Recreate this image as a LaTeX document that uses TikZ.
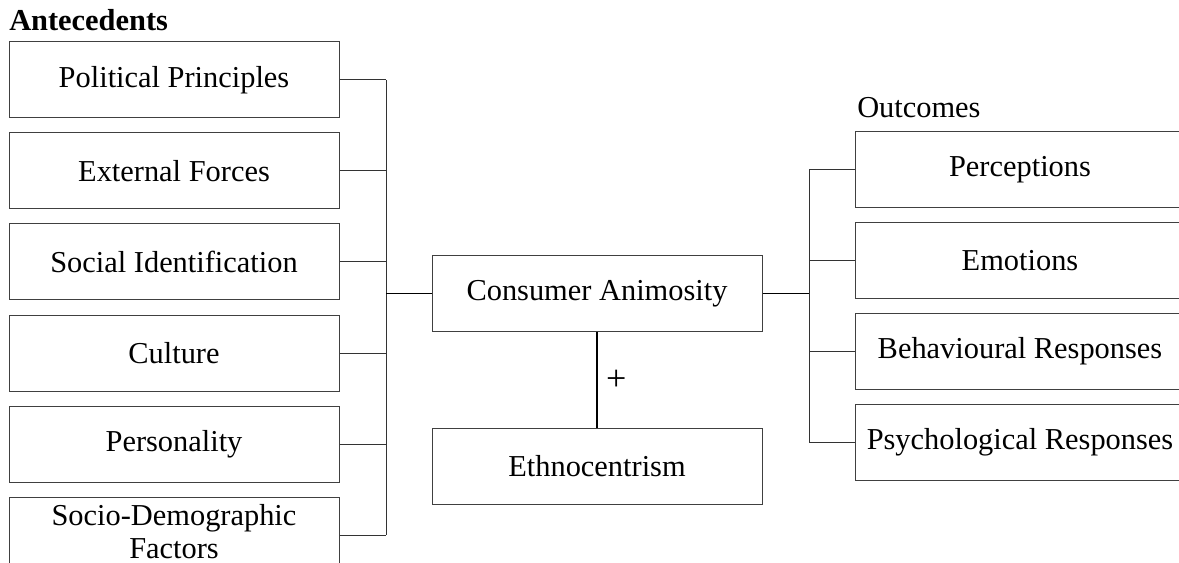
\documentclass[tikz,border=0pt]{standalone}
\usepackage{fontspec}
\setmainfont{Liberation Serif}
\usetikzlibrary{positioning}
\tikzset{factor/.style={rectangle,draw=black!75,line width=0.75pt,minimum width=247.5pt,minimum height=57pt,inner sep=0pt,align=center,font=\fontsize{22.8}{26}\selectfont}}
\tikzset{link/.style={draw=black!80,line width=0.75pt}}
\tikzset{mainlink/.style={draw=black,line width=1.1pt}}

\begin{document}
\begin{tikzpicture}[x=0.75pt,y=-0.75pt,node distance=10.5pt]
  \useasboundingbox (0,0) rectangle (1179,563);
  \clip (0,0) rectangle (1179,563);
  % antecedents
  \node[anchor=west,inner sep=0pt,font=\fontsize{22.8}{26}\selectfont\bfseries] (ante) at (9,20) {Antecedents};
  \node[factor] (pol) at (174,80) {Political Principles};
  \node[factor,below=of pol] (ext) {External Forces};
  \node[factor,below=of ext] (soc) {Social Identification};
  \node[factor,below=of soc] (cul) {Culture};
  \node[factor,below=of cul] (pers) {Personality};
  \node[factor,below=of pers] (demo) {\raisebox{5pt}{\begin{tabular}{@{}c@{}}Socio-Demographic\\[-1pt]Factors\end{tabular}}};
  % centre
  \node[factor] (anim) at (597,293.5) {Consumer Animosity};
  \node[factor,below=72pt of anim] (ethno) {Ethnocentrism};
  % outcomes
  \node[anchor=west,inner sep=0pt,font=\fontsize{22.8}{26}\selectfont] (outc) at (857,108) {Outcomes};
  \node[factor] (perc) at (1020,169.5) {Perceptions};
  \node[factor,below=of perc] (emo) {Emotions};
  \node[factor,below=of emo] (beh) {Behavioural Responses};
  \node[factor,below=of beh] (psy) {Psychological Responses};
  \coordinate (lbus) at (386,0);
  \coordinate (rbus) at (809,0);
  \foreach \n in {pol,ext,soc,cul,pers,demo}
    \draw[link] (\n.east) -- (\n.east -| lbus);
  \draw[link] (pol.east -| lbus) -- (demo.east -| lbus);
  \foreach \n in {perc,emo,beh,psy}
    \draw[link] (\n.west) -- (\n.west -| rbus);
  \draw[link] (perc.west -| rbus) -- (psy.west -| rbus);
  \draw[mainlink] (anim.west) -- (anim.west -| lbus);
  \draw[mainlink] (anim.east) -- (anim.east -| rbus);
  \draw[mainlink] (anim) -- node[right=3pt,font=\fontsize{27}{30}\selectfont] (plus) {+} (ethno);
\end{tikzpicture}
\end{document}
